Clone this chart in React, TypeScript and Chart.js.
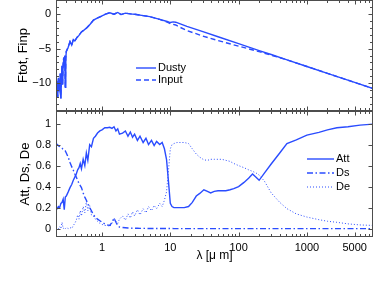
import React, { useEffect, useRef } from 'react';
import { Chart, registerables } from 'chart.js';

Chart.register(...registerables);

// ---------------- data ----------------
const X_MIN = 0.212;
const X_MAX = 9290;
const xTickValues = [1, 10, 100, 1000, 5000];
const topYTicks = [-10, -5, 0];
const topYMinor = [-14, -13, -12, -11, -10, -9, -8, -7, -6, -5, -4, -3, -2, -1, 0, 1, 2];
const bottomYTicks = [0, 0.2, 0.4, 0.6, 0.8, 1];

const lambdaTop = [
  0.21, 0.215, 0.22, 0.225, 0.23, 0.235, 0.24, 0.245, 0.25, 0.255,
  0.26, 0.265, 0.27, 0.275, 0.28, 0.285, 0.29, 0.295, 0.30, 0.32,
  0.34, 0.36, 0.38, 0.40, 0.43, 0.46, 0.50, 0.55, 0.60, 0.67,
  0.75, 0.85, 1.0, 1.15, 1.3, 1.5, 1.7, 1.9, 2.2, 2.6,
  3.0, 4.0, 5.0, 7.0, 9.0, 10, 11, 12, 14, 17.5,
  30, 50, 100, 200, 300, 500, 1000, 2000, 5000, 9300,
];
const dustyF = [
  -11.8, -10.2, -10.0, -12.0, -9.2, -10.5, -11.0, -8.6, -12.2, -9.0,
  -7.5, -10.2, -7.0, -6.3, -7.5, -6.0, -10.6, -6.4, -5.4, -4.8,
  -4.0, -4.5, -3.7, -3.9, -3.4, -3.1, -2.6, -2.3, -2.0, -1.5,
  -0.9, -0.6, -0.3, 0.0, 0.15, -0.05, 0.2, -0.1, 0.1, 0.0,
  -0.05, -0.25, -0.4, -0.8, -1.1, -1.25, -1.15, -1.2, -1.45, -1.8,
  -2.57, -3.3, -4.29, -5.29, -5.86, -6.59, -7.58, -8.57, -9.88, -10.77,
];
const inputF = [
  -11.8, -10.2, -10.0, -12.0, -9.2, -10.5, -11.0, -8.6, -12.2, -9.0,
  -7.5, -10.2, -7.0, -6.3, -7.5, -6.0, -10.6, -6.4, -5.4, -4.8,
  -4.0, -4.5, -3.7, -3.9, -3.4, -3.1, -2.6, -2.3, -2.0, -1.5,
  -0.9, -0.6, -0.3, 0.0, 0.15, -0.05, 0.2, -0.1, 0.1, 0.0,
  -0.05, -0.25, -0.4, -0.8, -1.2, -1.4, -1.5, -1.6, -1.95, -2.4,
  -3.2, -3.85, -4.65, -5.45, -5.95, -6.6, -7.58, -8.57, -9.88, -10.77,
];

const lambdaBot = [
  0.21, 0.22, 0.23, 0.24, 0.25, 0.26, 0.27, 0.28, 0.29, 0.30,
  0.32, 0.34, 0.36, 0.38, 0.40, 0.42, 0.44, 0.46, 0.48, 0.50,
  0.53, 0.56, 0.59, 0.62, 0.66, 0.70, 0.75, 0.80, 0.86, 0.93,
  1.0, 1.1, 1.2, 1.3, 1.4, 1.5, 1.6, 1.7, 1.8, 2.0,
  2.2, 2.4, 2.6, 2.8, 3.0, 3.3, 3.6, 4.0, 4.4, 4.8,
  5.3, 5.8, 6.3, 7.0, 7.6, 8.2, 8.8, 9.4, 10, 10.6,
  11.3, 12.5, 14, 16, 18.5, 21, 24, 27, 31, 35,
  39, 44, 50, 57, 65, 75, 85, 100, 120, 140,
  160, 180, 200, 240, 300, 400, 510, 700, 1000, 1500,
  2000, 2750, 4000, 6000, 9300,
];
const attV = [
  0.17, 0.19, 0.21, 0.20, 0.24, 0.25, 0.28, 0.18, 0.30, 0.31,
  0.35, 0.39, 0.42, 0.46, 0.49, 0.52, 0.56, 0.58, 0.62, 0.57,
  0.66, 0.60, 0.72, 0.65, 0.80, 0.78, 0.86, 0.88, 0.91, 0.93,
  0.94, 0.96, 0.96, 0.965, 0.955, 0.97, 0.93, 0.95, 0.90, 0.91,
  0.93, 0.88, 0.92, 0.87, 0.90, 0.84, 0.88, 0.82, 0.86, 0.80,
  0.84, 0.79, 0.83, 0.80, 0.82, 0.76, 0.66, 0.45, 0.24, 0.21,
  0.20, 0.20, 0.20, 0.20, 0.21, 0.25, 0.31, 0.335, 0.37, 0.355,
  0.34, 0.355, 0.36, 0.36, 0.36, 0.37, 0.38, 0.40, 0.44, 0.48,
  0.52, 0.49, 0.46, 0.53, 0.615, 0.72, 0.81, 0.845, 0.89, 0.917,
  0.94, 0.96, 0.97, 0.985, 0.995,
];
const dsV = [
  0.82, 0.80, 0.79, 0.78, 0.77, 0.765, 0.755, 0.75, 0.74, 0.72,
  0.68, 0.63, 0.59, 0.555, 0.52, 0.49, 0.46, 0.43, 0.41, 0.39,
  0.34, 0.30, 0.27, 0.24, 0.20, 0.17, 0.13, 0.11, 0.09, 0.075,
  0.06, 0.045, 0.035, 0.03, 0.06, 0.10, 0.06, 0.03, 0.015, 0.01,
  0.008, 0.006, 0.005, 0.004, 0.003, 0.003, 0.002, 0.002, 0.002, 0.001,
  0.001, 0.001, 0.001, 0.001, 0.001, 0.001, 0.001, 0.001, 0.001, 0.001,
  0, 0, 0, 0, 0, 0, 0, 0, 0, 0,
  0, 0, 0, 0, 0, 0, 0, 0, 0, 0,
  0, 0, 0, 0, 0, 0, 0, 0, 0, 0,
  0, 0, 0, 0, 0,
];
const deV = [
  0.0, 0.01, 0.0, 0.02, 0.0, 0.06, 0.0, 0.01, 0.0, 0.01,
  0.0, 0.01, 0.0, 0.03, 0.05, 0.08, 0.13, 0.09, 0.17, 0.12,
  0.21, 0.15, 0.26, 0.17, 0.22, 0.13, 0.12, 0.09, 0.07, 0.05,
  0.04, 0.03, 0.03, 0.02, 0.05, 0.10, 0.07, 0.05, 0.09, 0.12,
  0.08, 0.14, 0.10, 0.16, 0.12, 0.18, 0.13, 0.19, 0.15, 0.21,
  0.17, 0.22, 0.19, 0.24, 0.21, 0.27, 0.35, 0.55, 0.76, 0.80,
  0.81, 0.82, 0.82, 0.82, 0.81, 0.76, 0.71, 0.68, 0.655, 0.65,
  0.66, 0.66, 0.66, 0.66, 0.65, 0.64, 0.62, 0.60, 0.58, 0.56,
  0.545, 0.53, 0.51, 0.45, 0.34, 0.25, 0.19, 0.14, 0.11, 0.085,
  0.07, 0.06, 0.045, 0.035, 0.03,
];

// ---------------- styles ----------------
const BLUE = '#2a4cff';
const FONT = "'Liberation Sans', Arial, Helvetica, sans-serif";
const AXIS_COLOR = '#4d4d4d';

const pts = (xs: number[], ys: number[]) => xs.map((x, i) => ({ x, y: ys[i] }));

const boxPlugin = {
  id: 'mbox',
  afterDatasetsDraw(chart: any, _args: any, opts: any) {
    const { ctx, chartArea } = chart;
    const xs = chart.scales.x;
    const ys = chart.scales.y;
    const L = Math.round(chartArea.left) + 0.5;
    const R = Math.round(chartArea.right) - 0.5;
    const T = Math.round(chartArea.top) + 0.5;
    const B = Math.round(chartArea.bottom) - 0.5;
    ctx.save();
    ctx.strokeStyle = AXIS_COLOR;
    ctx.lineWidth = 1;
    ctx.beginPath();
    for (let e = -1; e <= 4; e++) {
      for (let m = 1; m <= 9; m++) {
        const v = m * Math.pow(10, e);
        if (v < xs.min || v > xs.max) continue;
        const isMaj = xTickValues.some((t) => Math.abs(t - v) / v < 1e-6);
        const len = isMaj ? 4 : 2.5;
        const px = Math.round(xs.getPixelForValue(v)) + 0.5;
        ctx.moveTo(px, B);
        ctx.lineTo(px, B - len);
        ctx.moveTo(px, T);
        ctx.lineTo(px, T + len);
      }
    }
    const yMaj: number[] = opts.yMajor || [];
    const yMin: number[] = opts.yMinor || [];
    yMin.forEach((v) => {
      const py = Math.round(ys.getPixelForValue(v)) + 0.5;
      ctx.moveTo(L, py);
      ctx.lineTo(L + 2.5, py);
      ctx.moveTo(R, py);
      ctx.lineTo(R - 2.5, py);
    });
    yMaj.forEach((v) => {
      const py = Math.round(ys.getPixelForValue(v)) + 0.5;
      ctx.moveTo(L, py);
      ctx.lineTo(L + 4, py);
      ctx.moveTo(R, py);
      ctx.lineTo(R - 4, py);
    });
    ctx.stroke();
    ctx.strokeRect(L, T, R - L, B - T);
    ctx.restore();
  },
};

const legendPlugin = {
  id: 'inlegend',
  afterDatasetsDraw(chart: any, _args: any, opts: any) {
    const { ctx } = chart;
    chart.data.datasets.forEach((ds: any, i: number) => {
      const y = opts.y + i * opts.row;
      ctx.save();
      ctx.strokeStyle = ds.borderColor;
      ctx.lineWidth = ds.borderWidth;
      ctx.setLineDash(ds.borderDash || []);
      ctx.beginPath();
      ctx.moveTo(opts.x, y);
      ctx.lineTo(opts.x + opts.len, y);
      ctx.stroke();
      ctx.setLineDash([]);
      ctx.fillStyle = '#000';
      ctx.font = `11px ${FONT}`;
      ctx.textBaseline = 'middle';
      ctx.textAlign = 'left';
      ctx.fillText(ds.label, opts.x + opts.len + 2, y);
      ctx.restore();
    });
  },
};

const fmtTop = (v: number) => (v < 0 ? '\u2212' + String(-v) : String(v));

const noGrid = { display: false, drawTicks: false, tickLength: 0 };

export default function App() {
  const topRef = useRef<HTMLCanvasElement>(null);
  const botRef = useRef<HTMLCanvasElement>(null);

  useEffect(() => {
    const common = {
      animation: false as const,
      responsive: false,
      devicePixelRatio: 1,
      events: [] as any[],
    };

    const topChart = new Chart(topRef.current!, {
      type: 'line',
      data: {
        datasets: [
          {
            label: 'Dusty',
            data: pts(lambdaTop, dustyF),
            borderColor: BLUE,
            borderWidth: 1.4,
            pointRadius: 0,
            tension: 0,
            fill: false,
          },
          {
            label: 'Input',
            data: pts(lambdaTop, inputF),
            borderColor: BLUE,
            borderWidth: 1.4,
            borderDash: [5, 3],
            pointRadius: 0,
            tension: 0,
            fill: false,
          },
        ],
      },
      options: {
        ...common,
        layout: { padding: { top: 0, right: 1, bottom: 1, left: 0 } },
        scales: {
          x: { type: 'logarithmic', min: X_MIN, max: X_MAX, display: false },
          y: {
            type: 'linear',
            min: -14,
            max: 2,
            grid: noGrid,
            border: { display: false },
            afterBuildTicks: (s: any) => {
              s.ticks = topYTicks.map((v) => ({ value: v }));
            },
            afterFit: (s: any) => {
              s.width = 56;
              s.paddingTop = 0;
              s.paddingBottom = 0;
            },
            ticks: {
              color: '#000',
              padding: 5,
              font: { family: FONT, size: 11 },
              callback: (v: any) => fmtTop(Number(v)),
            },
            title: {
              display: true,
              text: 'Ftot, Finp',
              color: '#000',
              font: { family: FONT, size: 13 },
              padding: { top: 16, bottom: 0 },
            },
          },
        },
        plugins: {
          legend: { display: false },
          tooltip: { enabled: false },
          mbox: { yMajor: topYTicks, yMinor: topYMinor },
          inlegend: { x: 136, y: 68, row: 12, len: 20 },
        } as any,
      },
      plugins: [boxPlugin, legendPlugin],
    } as any);

    const botChart = new Chart(botRef.current!, {
      type: 'line',
      data: {
        datasets: [
          {
            label: 'Att',
            data: pts(lambdaBot, attV),
            borderColor: BLUE,
            borderWidth: 1.4,
            pointRadius: 0,
            tension: 0,
            fill: false,
          },
          {
            label: 'Ds',
            data: pts(lambdaBot, dsV),
            borderColor: BLUE,
            borderWidth: 1.4,
            borderDash: [6, 2.5, 1.5, 2.5],
            pointRadius: 0,
            tension: 0,
            fill: false,
          },
          {
            label: 'De',
            data: pts(lambdaBot, deV),
            borderColor: BLUE,
            borderWidth: 1,
            borderDash: [1, 2],
            pointRadius: 0,
            tension: 0,
            fill: false,
          },
        ],
      },
      options: {
        ...common,
        layout: { padding: { top: 0, right: 1, bottom: 0, left: 0 } },
        scales: {
          x: {
            type: 'logarithmic',
            min: X_MIN,
            max: X_MAX,
            grid: noGrid,
            border: { display: false },
            afterBuildTicks: (s: any) => {
              s.ticks = xTickValues.map((v) => ({ value: v }));
            },
            afterFit: (s: any) => {
              s.height = 44;
              s.paddingLeft = 0;
              s.paddingRight = 0;
            },
            ticks: {
              color: '#000',
              padding: 4,
              maxRotation: 0,
              autoSkip: false,
              font: { family: FONT, size: 11 },
              callback: (v: any) => String(v),
            },
            title: {
              display: true,
              text: 'λ [μ m]',
              color: '#000',
              font: { family: FONT, size: 12 },
              padding: { top: 0, bottom: 18 },
            },
          },
          y: {
            type: 'linear',
            min: -0.08,
            max: 1.12,
            grid: noGrid,
            border: { display: false },
            afterBuildTicks: (s: any) => {
              s.ticks = bottomYTicks.map((v) => ({ value: v }));
            },
            afterFit: (s: any) => {
              s.width = 56;
              s.paddingTop = 0;
              s.paddingBottom = 0;
            },
            ticks: {
              color: '#000',
              padding: 5,
              font: { family: FONT, size: 11 },
              callback: (v: any) => String(Number(v)),
            },
            title: {
              display: true,
              text: 'Att, Ds, De',
              color: '#000',
              font: { family: FONT, size: 13 },
              padding: { top: 18, bottom: 0 },
            },
          },
        },
        plugins: {
          legend: { display: false },
          tooltip: { enabled: false },
          mbox: { yMajor: bottomYTicks, yMinor: [] },
          inlegend: { x: 307, y: 48, row: 14, len: 27 },
        } as any,
      },
      plugins: [boxPlugin, legendPlugin],
    } as any);

    return () => {
      topChart.destroy();
      botChart.destroy();
    };
  }, []);

  return (
    <div style={{ position: 'absolute', left: 0, top: 0, width: 374, height: 281, background: '#fff' }}>
      <canvas
        ref={topRef}
        width={374}
        height={112}
        style={{ position: 'absolute', left: 0, top: 0, width: 374, height: 112 }}
      />
      <canvas
        ref={botRef}
        width={374}
        height={170}
        style={{ position: 'absolute', left: 0, top: 111, width: 374, height: 170 }}
      />
    </div>
  );
}
